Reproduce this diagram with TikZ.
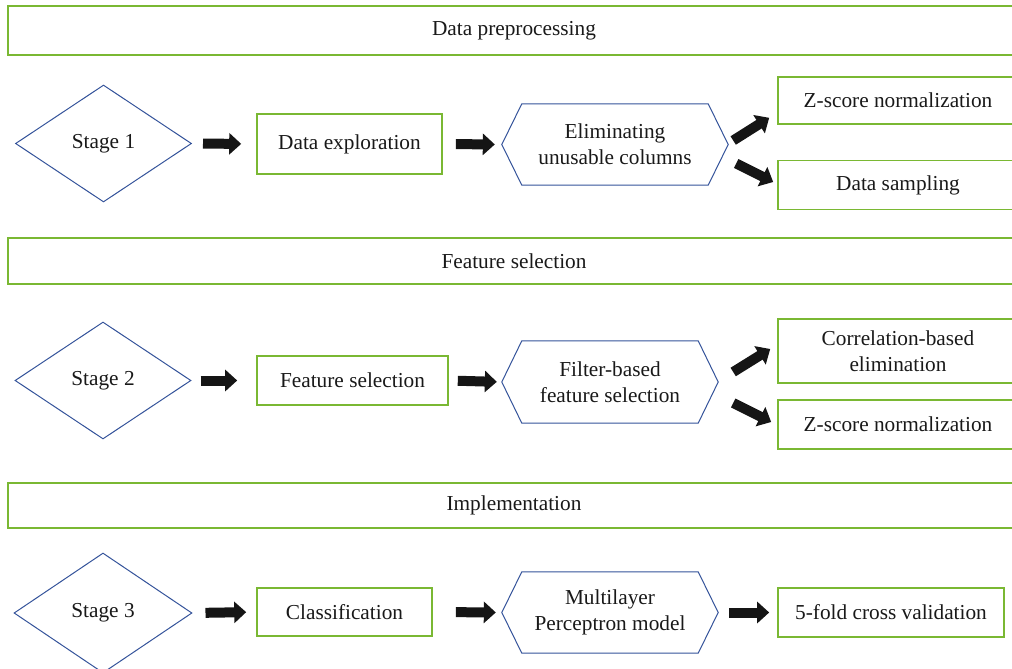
\documentclass[tikz,border=0pt]{standalone}
\usepackage{fontspec}
\setmainfont{Liberation Serif}
\usetikzlibrary{arrows.meta,shapes.geometric,calc}
\definecolor{gline}{HTML}{7AB833}
\definecolor{bline}{HTML}{34539A}
\definecolor{arrowk}{HTML}{151515}
\tikzset{
  lbl/.style={font=\fontsize{21.3}{26}\selectfont, text=black!90, align=center},
  banner/.style={draw=gline, line width=1.6pt, minimum width=1012pt, inner sep=0pt, lbl},
  gbox/.style={draw=gline, line width=1.6pt, inner sep=0pt, lbl},
  stagebox/.style={diamond, draw=bline, line width=1pt, minimum width=176pt, minimum height=117pt, inner sep=0pt, lbl},
  hexa/.style={inner sep=0pt, lbl},
  hexline/.style={draw=bline, line width=1pt, line join=miter},
  blockarrow/.style={draw=arrowk, line width=10pt, -{Triangle[length=12pt, width=21pt]}, arrowk},
}
\newcommand\hexdraw[1]{\draw[hexline] (#1.west) -- ($(#1.north west)+(20,0)$) -- ($(#1.north east)+(-20,0)$) -- (#1.east) -- ($(#1.south east)+(-20,0)$) -- ($(#1.south west)+(20,0)$) -- cycle;}
\begin{document}
\begin{tikzpicture}[x=1pt, y=-1pt]
\useasboundingbox (0,0) rectangle (1012,669);
% banners
\node[banner, minimum height=49pt] (ban1) at (514,30.5) {Data preprocessing};
\node[banner, minimum height=46pt] (ban2) at (514,261) {Feature selection};
\node[banner, minimum height=45pt] (ban3) at (514,505.5) {Implementation};
% row 1
\node[stagebox] (s1) at (103.5,143.5) {Stage 1};
\node[gbox, minimum width=185pt, minimum height=60pt] (b1) at (349.5,144) {Data exploration};
\node[hexa, minimum width=226pt, minimum height=81pt] (h1) at (615,144.5) {Eliminating\\unusable columns};
\hexdraw{h1}
\node[gbox, minimum width=260pt, minimum height=47pt] (z1) at (908,100.5) {\hspace*{-20pt}Z-score normalization};
\node[gbox, minimum width=260pt, minimum height=49pt] (ds) at (908,185) {\hspace*{-20pt}Data sampling};
\draw[blockarrow, shorten <=11pt, shorten >=15pt] (s1.east) -- (b1.west);
\draw[blockarrow, shorten <=13pt, shorten >=7pt] (b1.east) -- (h1.west);
\draw[blockarrow] ($(h1.east)+(5,-4)$) -- ($(z1.south west)+(-8,-7)$);
\draw[blockarrow] ($(h1.east)+(8,19)$) -- ($(ds.west)+(-4,-3)$);
% row 2
\node[stagebox] (s2) at (103,380.5) {Stage 2};
\node[gbox, minimum width=191pt, minimum height=49pt] (b2) at (352.5,380.5) {Feature selection};
\node[hexa, minimum width=216pt, minimum height=82pt] (h2) at (610,382) {Filter-based\\feature selection};
\hexdraw{h2}
\node[gbox, minimum width=260pt, minimum height=64pt, align=center] (cb) at (908,351) {\hspace*{-20pt}Correlation-based\\\hspace*{-20pt}elimination};
\node[gbox, minimum width=260pt, minimum height=49pt] (z2) at (908,424.5) {\hspace*{-20pt}Z-score normalization};
\draw[blockarrow, shorten <=9pt, shorten >=19pt] (s2.east) -- (b2.west);
\draw[blockarrow, shorten <=9pt, shorten >=5pt] (b2.east) -- (h2.west);
\draw[blockarrow] ($(h2.east)+(15,-10)$) -- ($(cb.west)+(-7,-2)$);
\draw[blockarrow] ($(h2.east)+(15,21)$) -- ($(z2.west)+(-6,-2.5)$);
% row 3
\node[stagebox, minimum width=178pt, minimum height=120pt] (s3) at (103,613) {Stage 3};
\node[gbox, minimum width=175pt, minimum height=48pt] (b3) at (344.5,612) {Classification};
\node[hexa, minimum width=216pt, minimum height=81pt] (h3) at (610,612.5) {Multilayer\\Perceptron model};
\hexdraw{h3}
\node[gbox, minimum width=226pt, minimum height=49pt] (cv) at (891,612.5) {5-fold cross validation};
\draw[blockarrow, shorten <=13pt, shorten >=10pt] (s3.east) -- (b3.west);
\draw[blockarrow, shorten <=23pt, shorten >=6pt] (b3.east) -- (h3.west);
\draw[blockarrow, shorten <=11pt, shorten >=8pt] (h3.east) -- (cv.west);
\end{tikzpicture}
\end{document}
